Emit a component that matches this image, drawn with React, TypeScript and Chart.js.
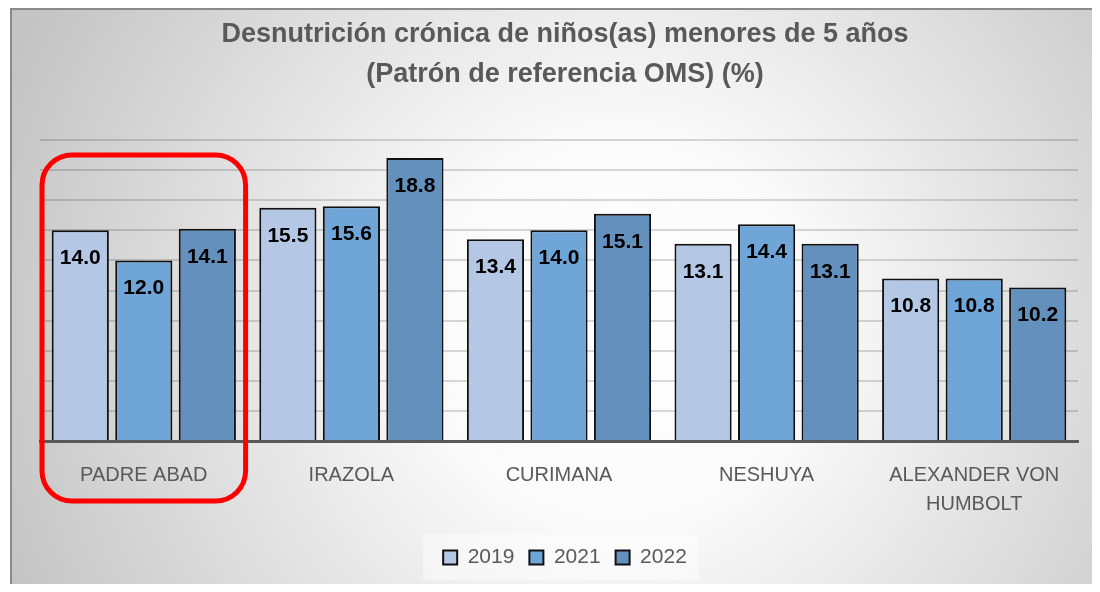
import React, { useEffect, useRef } from "react";
import { Chart, registerables } from "chart.js";

Chart.register(...registerables);

const categories: (string | string[])[] = ["PADRE ABAD", "IRAZOLA", "CURIMANA", "NESHUYA", ["ALEXANDER VON", "HUMBOLT"]];
const years = ["2019", "2021", "2022"];
const values2019 = [14.0, 15.5, 13.4, 13.1, 10.8];
const values2021 = [12.0, 15.6, 14.0, 14.4, 10.8];
const values2022 = [14.1, 18.8, 15.1, 13.1, 10.2];
const seriesColors = ["#B4C8E6", "#70A5D8", "#6490BD"];
const titleLines = ["Desnutrición crónica de niños(as) menores de 5 años", "(Patrón de referencia OMS) (%)"];
const yMin = 0;
const yMax = 20;
const yStep = 2;
const highlightIndex = 0;
const highlightTopValue = 19;

const FONT = "'Liberation Sans', Arial, sans-serif";

const bgPlugin = {
  id: "bgPlugin",
  beforeDraw(chart: any) {
    const { ctx, width, height } = chart;
    ctx.save();
    const g = ctx.createRadialGradient(612, 322, 0, 612, 322, 660);
    g.addColorStop(0, "#ffffff");
    g.addColorStop(0.3, "#fafafa");
    g.addColorStop(1, "#c4c4c4");
    ctx.fillStyle = g;
    ctx.fillRect(2, 0, width - 2, height);
    ctx.fillStyle = "#8a8a8a";
    ctx.fillRect(2, 0, width - 2, 2);
    ctx.fillRect(2, 0, 2, height);
    const lg = chart.legend;
    if (lg && lg.legendHitBoxes && lg.legendHitBoxes.length) {
      const hb = lg.legendHitBoxes;
      const l = Math.min(...hb.map((h: any) => h.left)) - 20;
      const r = Math.max(...hb.map((h: any) => h.left + h.width)) + 12;
      const cy = hb[0].top + hb[0].height / 2;
      ctx.fillStyle = "rgba(255,255,255,0.45)";
      ctx.fillRect(l, cy - 23, r - l, 46);
    }
    ctx.restore();
  },
};

const labelPlugin = {
  id: "labelPlugin",
  afterDatasetsDraw(chart: any) {
    const ctx = chart.ctx;
    ctx.save();
    ctx.font = `bold 21px ${FONT}`;
    ctx.fillStyle = "#000000";
    ctx.textAlign = "center";
    ctx.textBaseline = "middle";
    chart.data.datasets.forEach((ds: any, i: number) => {
      chart.getDatasetMeta(i).data.forEach((el: any, j: number) => {
        ctx.fillText(Number(ds.data[j]).toFixed(1), el.x, el.y + 28);
      });
    });
    ctx.restore();
  },
};

const highlightPlugin = {
  id: "highlightPlugin",
  afterDraw(chart: any) {
    const { ctx } = chart;
    const xs = chart.scales.x;
    const ys = chart.scales.y;
    const cx = xs.getPixelForValue(highlightIndex);
    const half = (xs.width / categories.length) / 2 - 2;
    const left = cx - half;
    const right = cx + half;
    const top = ys.getPixelForValue(highlightTopValue);
    const bottom = ys.getPixelForValue(yMin) + 60;
    ctx.save();
    ctx.strokeStyle = "#ff0000";
    ctx.lineWidth = 5;
    ctx.beginPath();
    if (ctx.roundRect) {
      ctx.roundRect(left, top, right - left, bottom - top, 30);
    } else {
      ctx.rect(left, top, right - left, bottom - top);
    }
    ctx.stroke();
    ctx.restore();
  },
};

export default function App() {
  const ref = useRef<HTMLCanvasElement | null>(null);
  useEffect(() => {
    if (!ref.current) return;
    const data = [values2019, values2021, values2022];
    const chart = new Chart(ref.current, {
      type: "bar",
      data: {
        labels: categories as any,
        datasets: years.map((y, i) => ({
          label: y,
          data: data[i],
          backgroundColor: seriesColors[i],
          borderColor: "#111111",
          borderWidth: 2,
          categoryPercentage: 0.918,
          barPercentage: 0.9,
        })),
      },
      options: {
        animation: false,
        responsive: true,
        maintainAspectRatio: false,
        layout: { padding: { left: 32, right: 2, top: 0, bottom: 6 } },
        plugins: {
          title: {
            display: true,
            text: titleLines,
            color: "#595959",
            font: { family: FONT, size: 27, weight: "bold", lineHeight: 40 / 27 },
            padding: { top: 7, bottom: 45 },
          },
          legend: {
            position: "bottom",
            labels: {
              boxWidth: 14,
              boxHeight: 14,
              padding: 15,
              color: "#595959",
              font: { family: FONT, size: 21 },
            },
          },
          tooltip: { enabled: false },
        },
        scales: {
          x: {
            grid: { display: false },
            border: { display: true, color: "#595959", width: 3 },
            ticks: {
              color: "#595959",
              font: { family: FONT, size: 20, lineHeight: 1.45 },
              padding: 12,
              maxRotation: 0,
              autoSkip: false,
            },
            afterFit(scale: any) {
              scale.height = 91;
            },
          },
          y: {
            position: "right",
            min: yMin,
            max: yMax,
            ticks: { display: false, stepSize: yStep },
            grid: { color: "rgba(0,0,0,0.15)", lineWidth: 2, drawTicks: false },
            border: { display: false },
            afterFit(scale: any) {
              scale.width = 12;
            },
          },
        },
      },
      plugins: [bgPlugin, labelPlugin, highlightPlugin],
    });
    return () => chart.destroy();
  }, []);
  return (
    <div style={{ width: 1084, height: 576 }}>
      <canvas ref={ref} style={{ display: "block" }} />
    </div>
  );
}
